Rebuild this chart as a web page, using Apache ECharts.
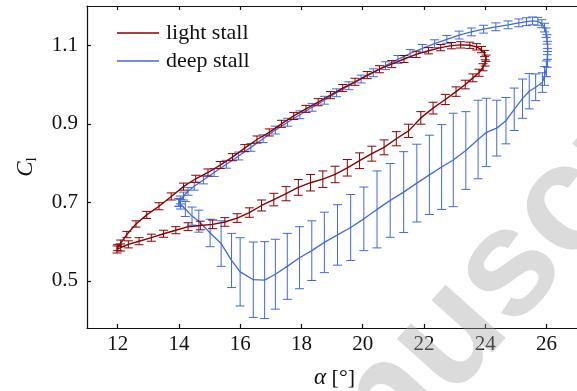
<!DOCTYPE html>
<html>
<head>
<meta charset="utf-8">
<script src="https://cdn.jsdelivr.net/npm/echarts@6/dist/echarts.min.js"></script>
<style>html,body{margin:0;padding:0;background:#fff}#c{width:577px;height:391px}</style>
</head>
<body>
<div id="c"></div>
<script>
// [alpha (deg), C_l, error half-width]
var lightUpper = [
  [12.0,0.585,0.008],[12.1,0.596,0.008],[12.3,0.618,0.008],[12.6,0.645,0.008],
  [12.95,0.668,0.009],[13.35,0.690,0.009],[13.75,0.715,0.009],[14.15,0.740,0.009],
  [14.55,0.760,0.009],[14.95,0.776,0.009],[15.35,0.795,0.009],[15.75,0.815,0.009],
  [16.15,0.838,0.009],[16.55,0.860,0.009],[16.95,0.878,0.009],[17.35,0.900,0.009],
  [17.75,0.920,0.009],[18.15,0.938,0.009],[18.55,0.955,0.009],[18.95,0.973,0.009],
  [19.35,0.991,0.009],[19.75,1.007,0.009],[20.15,1.024,0.009],[20.55,1.039,0.009],
  [20.95,1.052,0.009],[21.35,1.065,0.009],[21.75,1.077,0.008],[22.15,1.086,0.008],
  [22.55,1.094,0.008],[22.9,1.099,0.008],[23.2,1.101,0.008],[23.5,1.100,0.008],
  [23.72,1.096,0.008],[23.88,1.089,0.008],[23.98,1.079,0.008],[24.03,1.067,0.008],
  [24.0,1.055,0.008]
];
var lightLower = [
  [23.93,1.044,0.009],[23.8,1.030,0.009],[23.6,1.017,0.010],[23.35,1.000,0.011],
  [23.05,0.982,0.012],[22.7,0.962,0.013],[22.3,0.940,0.015],[21.9,0.915,0.016],
  [21.5,0.882,0.017],[21.1,0.862,0.018],[20.7,0.840,0.019],[20.3,0.824,0.019],
  [19.9,0.806,0.020],[19.5,0.788,0.021],[19.1,0.771,0.021],[18.7,0.759,0.021],
  [18.3,0.750,0.021],[17.9,0.738,0.020],[17.5,0.722,0.018],[17.1,0.707,0.016],
  [16.7,0.692,0.014],[16.3,0.674,0.012],[15.9,0.660,0.011],[15.5,0.650,0.011],
  [15.1,0.644,0.011],[14.7,0.641,0.011],[14.3,0.638,0.010],[13.9,0.629,0.009],
  [13.5,0.620,0.009],[13.1,0.610,0.009],[12.7,0.601,0.009],[12.35,0.593,0.009],
  [12.1,0.585,0.009],[11.98,0.580,0.009]
];
var deepUpper = [
  [14.0,0.700,0.010],[14.05,0.706,0.010],[14.15,0.716,0.010],[14.3,0.728,0.010],
  [14.5,0.741,0.010],[14.8,0.757,0.010],[15.15,0.776,0.010],[15.55,0.797,0.010],
  [15.95,0.818,0.010],[16.35,0.840,0.010],[16.75,0.862,0.010],[17.15,0.884,0.010],
  [17.55,0.904,0.010],[17.95,0.923,0.010],[18.35,0.942,0.010],[18.75,0.960,0.010],
  [19.15,0.979,0.010],[19.55,0.997,0.010],[19.95,1.014,0.010],[20.35,1.030,0.010],
  [20.75,1.048,0.010],[21.15,1.064,0.010],[21.55,1.079,0.010],[21.95,1.092,0.010],
  [22.35,1.104,0.010],[22.75,1.115,0.010],[23.15,1.126,0.010],[23.55,1.134,0.010],
  [23.95,1.141,0.010],[24.35,1.147,0.010],[24.75,1.152,0.010],[25.1,1.157,0.010],
  [25.35,1.160,0.010],[25.55,1.162,0.010],[25.72,1.161,0.010],[25.85,1.155,0.010],
  [25.94,1.145,0.011],[25.99,1.132,0.012],[26.02,1.115,0.012],[26.04,1.097,0.013],
  [26.04,1.078,0.014],[26.03,1.060,0.016],[26.0,1.040,0.020],[25.94,1.022,0.024]
];
var deepLower = [
  [25.87,1.005,0.025],[25.65,0.993,0.034],[25.44,0.983,0.045],[25.22,0.964,0.050],
  [24.95,0.937,0.054],[24.68,0.908,0.059],[24.38,0.889,0.071],[24.04,0.878,0.087],
  [23.77,0.860,0.100],[23.37,0.832,0.099],[22.96,0.808,0.119],[22.58,0.790,0.108],
  [22.18,0.770,0.101],[21.77,0.749,0.099],[21.34,0.726,0.103],[20.90,0.705,0.094],
  [20.47,0.682,0.098],[20.04,0.658,0.081],[19.61,0.636,0.084],[19.18,0.617,0.077],
  [18.75,0.598,0.077],[18.34,0.577,0.076],[17.94,0.559,0.079],[17.54,0.537,0.084],
  [17.15,0.517,0.089],[16.80,0.502,0.098],[16.43,0.503,0.096],[16.00,0.523,0.087],
  [15.72,0.552,0.069],[15.38,0.595,0.058],[15.02,0.622,0.035],[14.65,0.652,0.028],
  [14.43,0.665,0.023],[14.21,0.683,0.019],[14.05,0.695,0.012],[14.0,0.700,0.010]
];
var xTicks = [12, 14, 16, 18, 20, 22, 24, 26];
var yTicks = [0.5, 0.7, 0.9, 1.1];
var seriesNames = ['light stall', 'deep stall'];

var RED = '#8b0000', BLUE = '#4169e1';
var SERIF = 'Liberation Serif';

function loop(a, b) {
  var pts = a.concat(b).map(function (p) { return [p[0], p[1]]; });
  pts.push([a[0][0], a[0][1]]);
  return pts;
}
function errItem(color) {
  return function (params, api) {
    var x = api.value(0), y = api.value(1), e = api.value(2);
    var t = api.coord([x, y + e]), b = api.coord([x, y - e]);
    var hw = 4.5, st = { stroke: color, lineWidth: 1 };
    return { type: 'group', children: [
      { type: 'line', shape: { x1: t[0], y1: t[1], x2: b[0], y2: b[1] }, style: st },
      { type: 'line', shape: { x1: t[0] - hw, y1: t[1], x2: t[0] + hw, y2: t[1] }, style: st },
      { type: 'line', shape: { x1: b[0] - hw, y1: b[1], x2: b[0] + hw, y2: b[1] }, style: st }
    ]};
  };
}

function legendEntry(y, color, label) {
  return [{
    type: 'line', shape: { x1: 117, y1: y, x2: 159, y2: y }, style: { stroke: color, lineWidth: 1.4 }, z: 20
  }, {
    type: 'text', x: 166, y: y, z: 20,
    style: { text: label, fontFamily: SERIF, fontSize: 22, fill: '#111', align: 'left', verticalAlign: 'middle' }
  }];
}

var axisLineStyle = { color: '#111', width: 1.2 };
var chart = echarts.init(document.getElementById('c'), null, { renderer: 'canvas' });
chart.setOption({
  animation: false,
  grid: { left: 87, top: 6, width: 494, height: 322, containLabel: false },
  xAxis: [{
    type: 'value', min: 11, max: 27, position: 'bottom',
    axisLine: { show: true, lineStyle: axisLineStyle },
    axisTick: { show: true, inside: true, length: 4, customValues: xTicks, lineStyle: axisLineStyle },
    axisLabel: { customValues: xTicks, margin: 6, color: '#111', fontFamily: SERIF, fontSize: 21 },
    splitLine: { show: false }
  }, {
    type: 'value', min: 11, max: 27, position: 'top',
    axisLine: { show: true, lineStyle: axisLineStyle },
    axisTick: { show: true, inside: true, length: 4, customValues: xTicks, lineStyle: axisLineStyle },
    axisLabel: { show: false },
    splitLine: { show: false }
  }],
  yAxis: [{
    type: 'value', min: 0.38, max: 1.2,
    axisLine: { show: true, lineStyle: axisLineStyle },
    axisTick: { show: true, inside: true, length: 4, customValues: yTicks, lineStyle: axisLineStyle },
    axisLabel: { customValues: yTicks, margin: 9, color: '#111', fontFamily: SERIF, fontSize: 21,
      formatter: function (v) { return v.toFixed(1); } },
    splitLine: { show: false },
    name: '{c|C}{s|l}', nameLocation: 'middle', nameRotate: 90, nameGap: 47,
    nameTextStyle: { rich: {
      c: { fontFamily: SERIF, fontStyle: 'italic', fontSize: 23, color: '#111', lineHeight: 28, verticalAlign: 'middle' },
      s: { fontFamily: SERIF, fontSize: 15, color: '#111', lineHeight: 12, verticalAlign: 'bottom' }
    } }
  }],
  graphic: legendEntry(33, RED, seriesNames[0]).concat(legendEntry(61, BLUE, seriesNames[1])).concat([{
    type: 'text', x: 334.5, y: 378, z: 10,
    style: { text: '{a|α} [°]', align: 'center', verticalAlign: 'middle',
      rich: { a: { fontFamily: SERIF, fontStyle: 'italic', fontSize: 23, fill: '#111' } },
      fontFamily: SERIF, fontSize: 22, fill: '#111' }
  }, {
    type: 'text', x: 487, y: 296, rotation: 0.84, z: 100, silent: true,
    style: { text: 'Manuscript', fontFamily: 'Liberation Sans', fontWeight: 'bold', fontSize: 152,
      fill: 'rgba(160,160,160,0.38)', align: 'center', verticalAlign: 'middle' }
  }]),
  series: [{
    name: seriesNames[1], type: 'line', symbol: 'none', data: loop(deepUpper, deepLower),
    lineStyle: { color: BLUE, width: 1.3 }, itemStyle: { color: BLUE }, z: 2
  }, {
    name: 'deep stall bars', type: 'custom', renderItem: errItem(BLUE), data: deepUpper.concat(deepLower),
    encode: { x: 0, y: 1 }, silent: true, z: 2
  }, {
    name: seriesNames[0], type: 'line', symbol: 'none', data: loop(lightUpper, lightLower),
    lineStyle: { color: RED, width: 1.4 }, itemStyle: { color: RED }, z: 3
  }, {
    name: 'light stall bars', type: 'custom', renderItem: errItem(RED), data: lightUpper.concat(lightLower),
    encode: { x: 0, y: 1 }, silent: true, z: 3
  }]
});
</script>
</body>
</html>
